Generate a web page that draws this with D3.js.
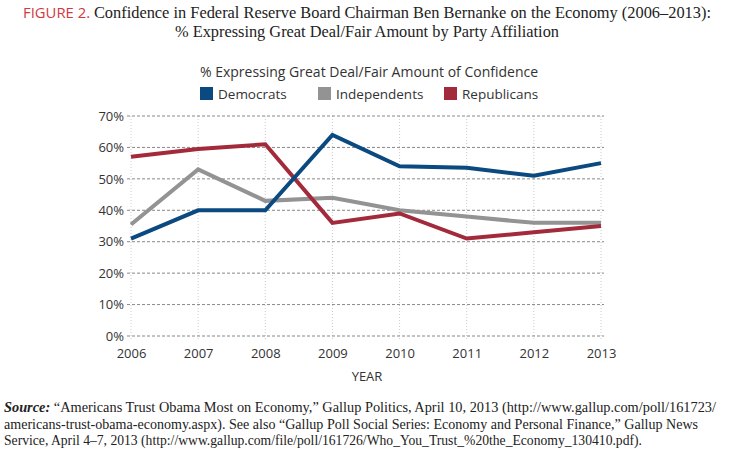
<!DOCTYPE html>
<html><head><meta charset="utf-8">
<script src="https://cdn.jsdelivr.net/npm/d3@7"></script>
<style>body{margin:0;background:#fff;} svg{display:block;}</style>
</head><body>
<svg id="c" width="733" height="449"></svg>
<script>
const years = [2006, 2007, 2008, 2009, 2010, 2011, 2012, 2013];
const democrats = [31, 40, 40, 64, 54, 53.5, 51, 55];
const independents = [35.5, 53, 43, 44, 40, 38, 36, 36];
const republicans = [57, 59.5, 61, 36, 39, 31, 33, 35];
const seriesNames = ["Democrats", "Independents", "Republicans"];
const seriesColors = ["#0b4a80", "#939393", "#a32a3b"];
const yTicks = [0, 10, 20, 30, 40, 50, 60, 70];

const svg = d3.select("#c");
const sans = "'Open Sans', 'DejaVu Sans', sans-serif";
const serif = "'Liberation Serif', 'DejaVu Serif', serif";

const x = d3.scalePoint().domain(years).range([131, 601]);
const y = d3.scaleLinear().domain([0, 70]).range([336, 116]);

// title
const t1 = svg.append("text").attr("x", 367).attr("y", 18).attr("text-anchor", "middle")
  .attr("font-family", serif).attr("font-size", 16).attr("fill", "#222")
  .attr("textLength", 688).attr("lengthAdjust", "spacingAndGlyphs");
t1.append("tspan").attr("fill", "#d13a3f").attr("font-family", sans).attr("font-size", 14.5).text("FIGURE 2. ");
t1.append("tspan").text("Confidence in Federal Reserve Board Chairman Ben Bernanke on the Economy (2006\u20132013):");
svg.append("text").attr("x", 367).attr("y", 37).attr("text-anchor", "middle")
  .attr("font-family", serif).attr("font-size", 16).attr("fill", "#222")
  .attr("textLength", 384).attr("lengthAdjust", "spacingAndGlyphs")
  .text("% Expressing Great Deal/Fair Amount by Party Affiliation");

// legend
svg.append("text").attr("x", 369).attr("y", 77).attr("text-anchor", "middle")
  .attr("font-family", sans).attr("font-size", 14).attr("fill", "#333")
  .text("% Expressing Great Deal/Fair Amount of Confidence");
const legX = [200, 318, 444];
seriesNames.forEach((n, i) => {
  svg.append("rect").attr("x", legX[i]).attr("y", 87).attr("width", 13).attr("height", 13).attr("fill", seriesColors[i]);
  svg.append("text").attr("x", legX[i] + 18).attr("y", 99).attr("font-family", sans).attr("font-size", 13.5)
    .attr("fill", "#333").text(n);
});

// gridlines
const g = svg.append("g");
years.forEach(yr => {
  g.append("line").attr("x1", x(yr)).attr("x2", x(yr)).attr("y1", 116).attr("y2", 340)
    .attr("stroke", "#ccc").attr("stroke-width", 1).attr("stroke-dasharray", "1,2");
});
yTicks.forEach(v => {
  g.append("line").attr("x1", 127).attr("x2", 604).attr("y1", y(v)).attr("y2", y(v))
    .attr("stroke", "#888").attr("stroke-width", 1).attr("stroke-dasharray", "3,2");
});

// axes
const yAxis = svg.append("g").attr("transform", "translate(126,0)")
  .call(d3.axisLeft(y).tickValues(yTicks).tickFormat(d => d + "%").tickSize(0).tickPadding(2));
yAxis.select(".domain").remove();
yAxis.selectAll("text").attr("font-family", sans).attr("font-size", 13).attr("fill", "#333");

const xAxis = svg.append("g").attr("transform", "translate(0,346)")
  .call(d3.axisBottom(x).tickSize(0).tickPadding(3).tickFormat(d3.format("d")));
xAxis.select(".domain").remove();
xAxis.selectAll("text").attr("font-family", sans).attr("font-size", 13).attr("fill", "#333");

svg.append("text").attr("x", 367).attr("y", 381).attr("text-anchor", "middle")
  .attr("font-family", sans).attr("font-size", 13).attr("fill", "#333").text("YEAR");

// lines
const data = [democrats, independents, republicans];
const line = d3.line().x((d, i) => x(years[i])).y(d => y(d));
[1, 2, 0].forEach(i => {
  svg.append("path").datum(data[i]).attr("d", line).attr("fill", "none")
    .attr("stroke", seriesColors[i]).attr("stroke-width", 4).attr("stroke-linejoin", "miter");
});

// source
const src = [
  [["Source:", true], [" \u201cAmericans Trust Obama Most on Economy,\u201d Gallup Politics, April 10, 2013 (http://www.gallup.com/poll/161723/", false]],
  [["americans-trust-obama-economy.aspx). See also \u201cGallup Poll Social Series: Economy and Personal Finance,\u201d Gallup News", false]],
  [["Service, April 4\u20137, 2013 (http://www.gallup.com/file/poll/161726/Who_You_Trust_%20the_Economy_130410.pdf).", false]]
];
const srcLen = [712, 694, 638];
src.forEach((parts, li) => {
  const t = svg.append("text").attr("x", 4).attr("y", 412 + li * 16.5)
    .attr("font-family", serif).attr("font-size", 14.5).attr("fill", "#222")
    .attr("textLength", srcLen[li]).attr("lengthAdjust", "spacingAndGlyphs");
  parts.forEach(([s, b]) => {
    const ts = t.append("tspan").text(s);
    if (b) ts.attr("font-weight", "bold").attr("font-style", "italic");
  });
});
</script>
</body></html>
